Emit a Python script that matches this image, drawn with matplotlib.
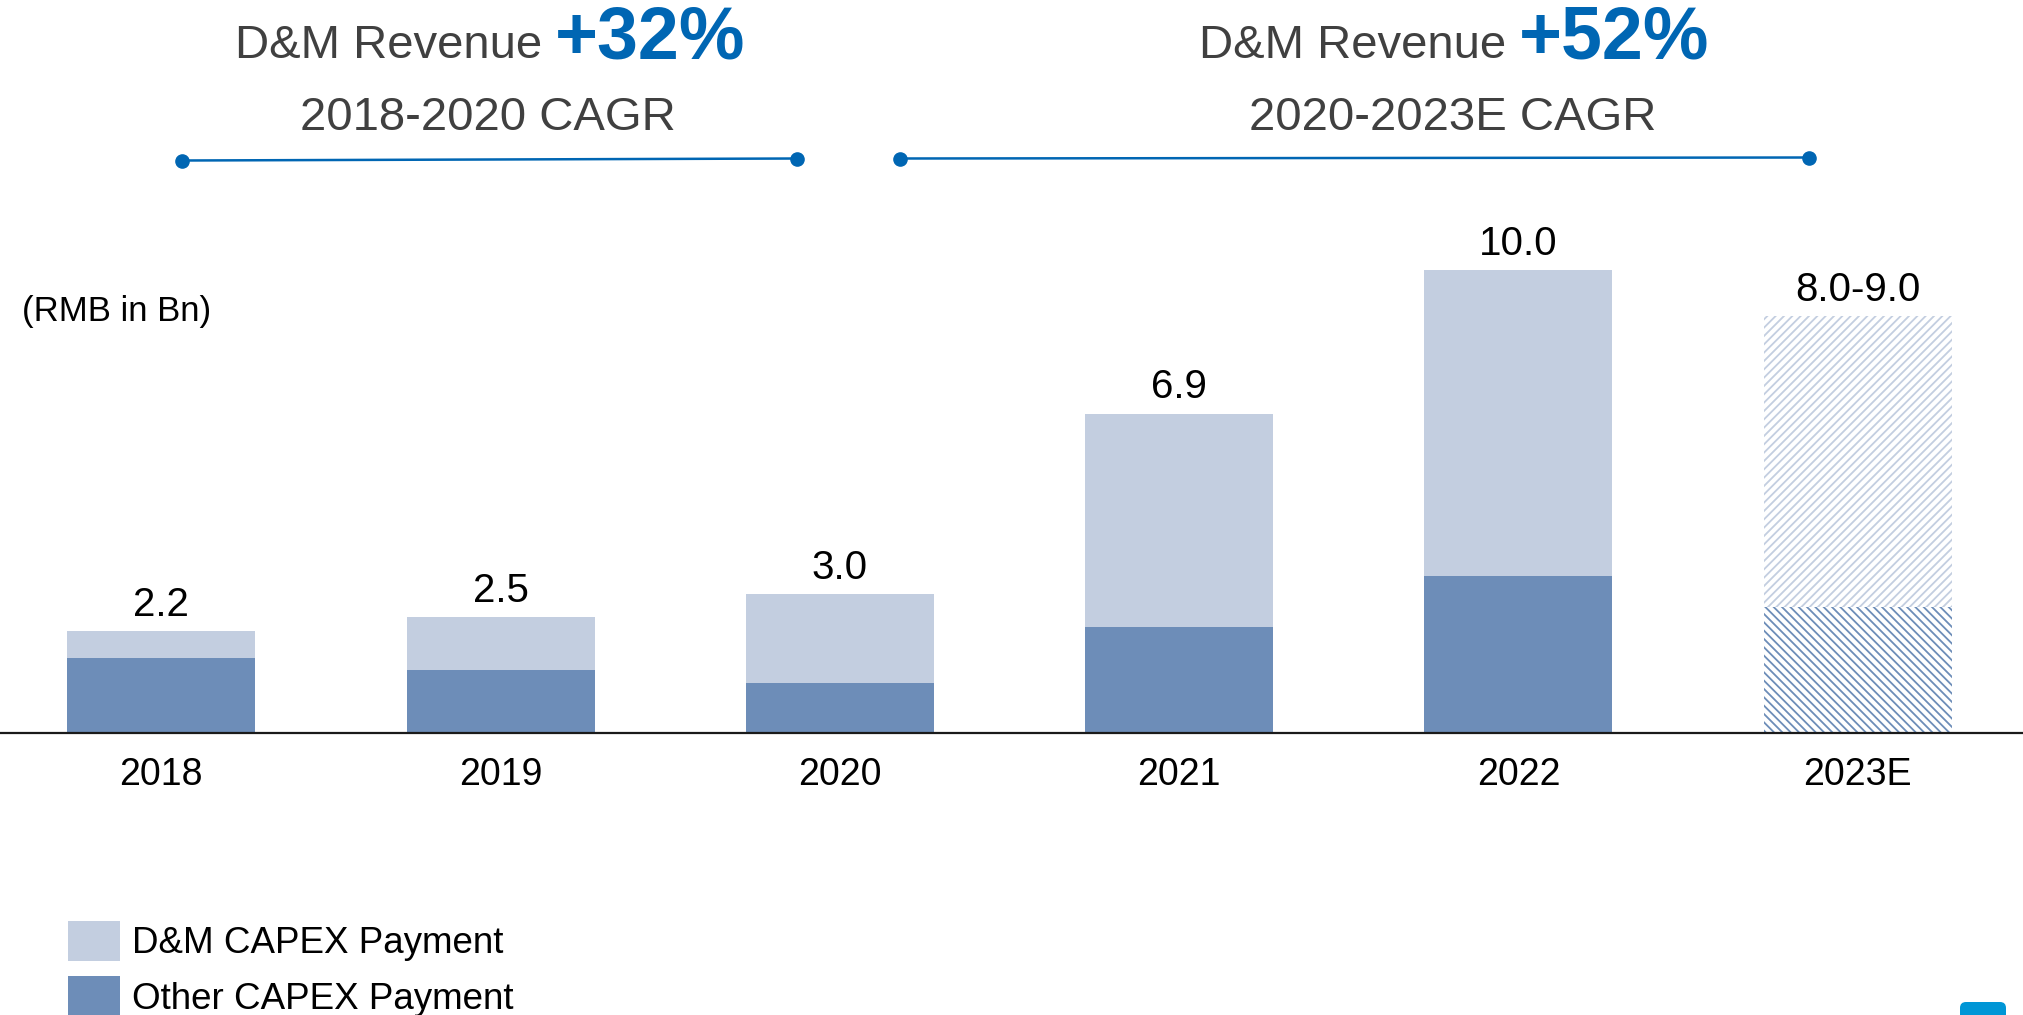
import matplotlib.pyplot as plt
from matplotlib.patches import Patch, FancyBboxPatch

plt.rcParams['font.family'] = ['Liberation Sans', 'DejaVu Sans']
plt.rcParams['hatch.linewidth'] = 1.3

# data (RMB in Bn)
years = ['2018', '2019', '2020', '2021', '2022', '2023E']
totals = [2.2, 2.5, 3.0, 6.9, 10.0, 9.0]
other_capex = [1.62, 1.37, 1.09, 2.29, 3.40, 2.72]
dm_capex = [t - o for t, o in zip(totals, other_capex)]
value_labels = ['2.2', '2.5', '3.0', '6.9', '10.0', '8.0-9.0']
estimate = [False, False, False, False, False, True]

light = '#C3CEE0'
dark = '#6D8DB8'
blue = '#0066B3'
grey = '#404040'

W, H = 2023, 1015
fig = plt.figure(figsize=(W / 100, H / 100), dpi=100)

ax = fig.add_axes([0, (H - 733) / H, 1, (733 - 177.4) / H])
x = list(range(len(years)))
for i in x:
    if estimate[i]:
        ax.bar(i, other_capex[i], width=0.554, color='white', edgecolor=dark,
               hatch='\\\\\\\\', linewidth=0)
        ax.bar(i, dm_capex[i], bottom=other_capex[i], width=0.554, color='white',
               edgecolor=light, hatch='////', linewidth=0)
    else:
        ax.bar(i, other_capex[i], width=0.554, color=dark, linewidth=0)
        ax.bar(i, dm_capex[i], bottom=other_capex[i], width=0.554, color=light, linewidth=0)
    ax.text(i, totals[i] + 0.16, value_labels[i], ha='center', va='bottom',
            fontsize=29, color='black')

ax.set_xlim(-0.4754, 5.487)
ax.set_ylim(0, 12)
ax.set_xticks(x)
ax.set_xticklabels(years, fontsize=27, color='black')
ax.tick_params(axis='x', length=0, pad=17)
ax.set_yticks([])
for s in ['top', 'right', 'left']:
    ax.spines[s].set_visible(False)
ax.spines['bottom'].set_linewidth(1.6)
ax.spines['bottom'].set_color('#1a1a1a')
ax.patch.set_alpha(0)

# overlay in pixel coords for the header annotations
ov = fig.add_axes([0, 0, 1, 1])
ov.set_xlim(0, W)
ov.set_ylim(H, 0)
ov.axis('off')
ov.patch.set_alpha(0)

ov.text(542, 58, 'D&M Revenue', ha='right', va='baseline', fontsize=34, color=grey)
ov.text(555, 58, '+32%', ha='left', va='baseline', fontsize=53, color=blue, fontweight='bold')
ov.text(488, 130, '2018-2020 CAGR', ha='center', va='baseline', fontsize=34, color=grey)
ov.plot([182, 797], [160.5, 158.5], color=blue, lw=1.8, marker='o', markersize=9.5)

ov.text(1506, 58, 'D&M Revenue', ha='right', va='baseline', fontsize=34, color=grey)
ov.text(1519, 58, '+52%', ha='left', va='baseline', fontsize=53, color=blue, fontweight='bold')
ov.text(1453, 130, '2020-2023E CAGR', ha='center', va='baseline', fontsize=34, color=grey)
ov.plot([900.5, 1809], [158.5, 157.5], color=blue, lw=1.8, marker='o', markersize=9.5)

ov.text(22, 311, '(RMB in Bn)', ha='left', va='center', fontsize=25, color='black')

# cropped logo fragment in the corner
ov.add_patch(FancyBboxPatch((1966, 1008), 34, 20, boxstyle='round,pad=6',
                            facecolor='#0096D6', edgecolor='none'))

handles = [Patch(facecolor=light, edgecolor='none', label='D&M CAPEX Payment'),
           Patch(facecolor=dark, edgecolor='none', label='Other CAPEX Payment')]
fig.legend(handles=handles, loc='upper left', bbox_to_anchor=(68 / W, 1 - 921 / H),
           frameon=False, fontsize=26.5, handlelength=1.41, handleheight=1.295,
           handletextpad=0.33, labelspacing=0.41, borderpad=0, borderaxespad=0)

fig.savefig('out.png', dpi=100)
